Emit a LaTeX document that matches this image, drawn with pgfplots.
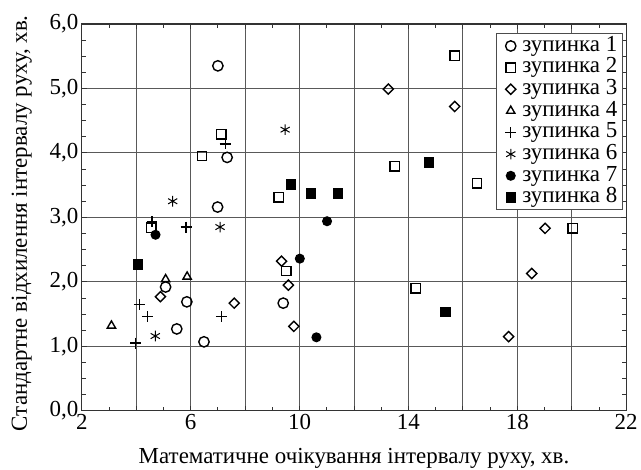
\documentclass[border=0pt]{standalone}
\usepackage{fontspec}
\setmainfont{Liberation Serif}
\usepackage{pgfplots}
\pgfplotsset{compat=1.18}
\usetikzlibrary{calc}

\begin{document}
\begin{tikzpicture}
\begin{axis}[
  scale only axis, width=546pt, height=388pt,
  xmin=2, xmax=22, ymin=0, ymax=6,
  xtick={2,4,...,22}, xticklabels={2,,6,,10,,14,,18,,22},
  ytick={0,1,...,6}, minor x tick num=1, minor y tick num=3,
  yticklabel={\pgfmathprintnumber[fixed,fixed zerofill,precision=1,use comma,assume math mode=true]{\tick}},
  tick pos=both, tick align=inside, minor tick length=4pt, major tick length=5pt,
  grid=major, grid style={black!65, line width=0.9pt},
  axis line style={line width=1.3pt, black!80},
  every tick/.style={black!80, line width=0.9pt},
  tick label style={font=\rmfamily\fontsize{23}{24}\selectfont},
  label style={font=\rmfamily\fontsize{23}{24}\selectfont, inner sep=1pt},
  xlabel={Математичне очікування інтервалу руху, хв.},
  ylabel={Стандартне відхилення інтервалу руху, хв.},
  xlabel style={at={(rel axis cs:0.5,-0.1366)}, anchor=base},
  ylabel style={at={(rel axis cs:-0.1007,0.485)}, anchor=base},
  legend cell align=left,
  legend image code/.code={\path[draw=none,fill=none] (0pt,-4pt) rectangle (21pt,4pt); \draw[#1] plot coordinates {(10pt,0pt)};},
  legend style={at={(rel axis cs:0.993,0.976)}, anchor=north east,
    draw=black!70, line width=0.9pt, font=\rmfamily\fontsize{23}{23}\selectfont,
    nodes={inner sep=0.6pt, text height=15.5pt, text depth=5pt},
    inner xsep=4pt, inner ysep=1.5pt},
  every axis plot/.append style={only marks, black, line width=1.4pt},
]
% зупинка 1
\addplot[mark=o, mark size=5.2pt] coordinates {
 (7.00,5.35) (7.34,3.93) (6.99,3.16) (5.08,1.92) (5.86,1.69) (5.49,1.27) (6.49,1.07) (9.40,1.67)};
% зупинка 2
\addplot[mark=square, mark size=4.7pt] coordinates {
 (7.12,4.29) (6.42,3.95) (9.23,3.31) (4.55,2.84) (9.52,2.17) (15.70,5.51) (13.50,3.79) (16.52,3.53) (14.26,1.90) (20.03,2.83)};
% зупинка 3
\addplot[mark=square, mark size=3.6pt, mark options={rotate=45}] coordinates {
 (13.26,4.99) (15.70,4.72) (19.02,2.83) (18.53,2.13) (17.68,1.15) (9.34,2.32) (9.59,1.95) (9.79,1.31) (4.89,1.77) (7.60,1.67)};
% зупинка 4
\addplot[mark=triangle, mark size=4.8pt] coordinates {
 (5.08,2.04) (5.87,2.08) (3.09,1.32)};
% зупинка 5
\addplot[mark=+, mark size=5.5pt] coordinates {
 (7.27,4.14) (4.58,2.93) (5.83,2.85) (4.12,1.65) (4.41,1.46) (3.98,1.05) (7.13,1.46)};
% зупинка 6
\addplot[mark=asterisk, mark size=5.3pt, line width=1pt] coordinates {
 (9.47,4.36) (5.34,3.25) (7.08,2.85) (4.70,1.16)};
% зупинка 7
\addplot[mark=*, mark size=4.3pt] coordinates {
 (4.71,2.73) (10.01,2.36) (11.01,2.94) (10.62,1.14)};
% зупинка 8
\addplot[mark=square*, mark size=4.4pt] coordinates {
 (4.06,2.27) (9.68,3.51) (10.41,3.37) (11.41,3.37) (14.75,3.85) (15.36,1.53)};
\legend{зупинка 1,зупинка 2,зупинка 3,зупинка 4,зупинка 5,зупинка 6,зупинка 7,зупинка 8}
\end{axis}
\path ($(current axis.south west)+(-82pt,-59pt)$) rectangle ($(current axis.north east)+(13pt,24pt)$);
\end{tikzpicture}
\end{document}
